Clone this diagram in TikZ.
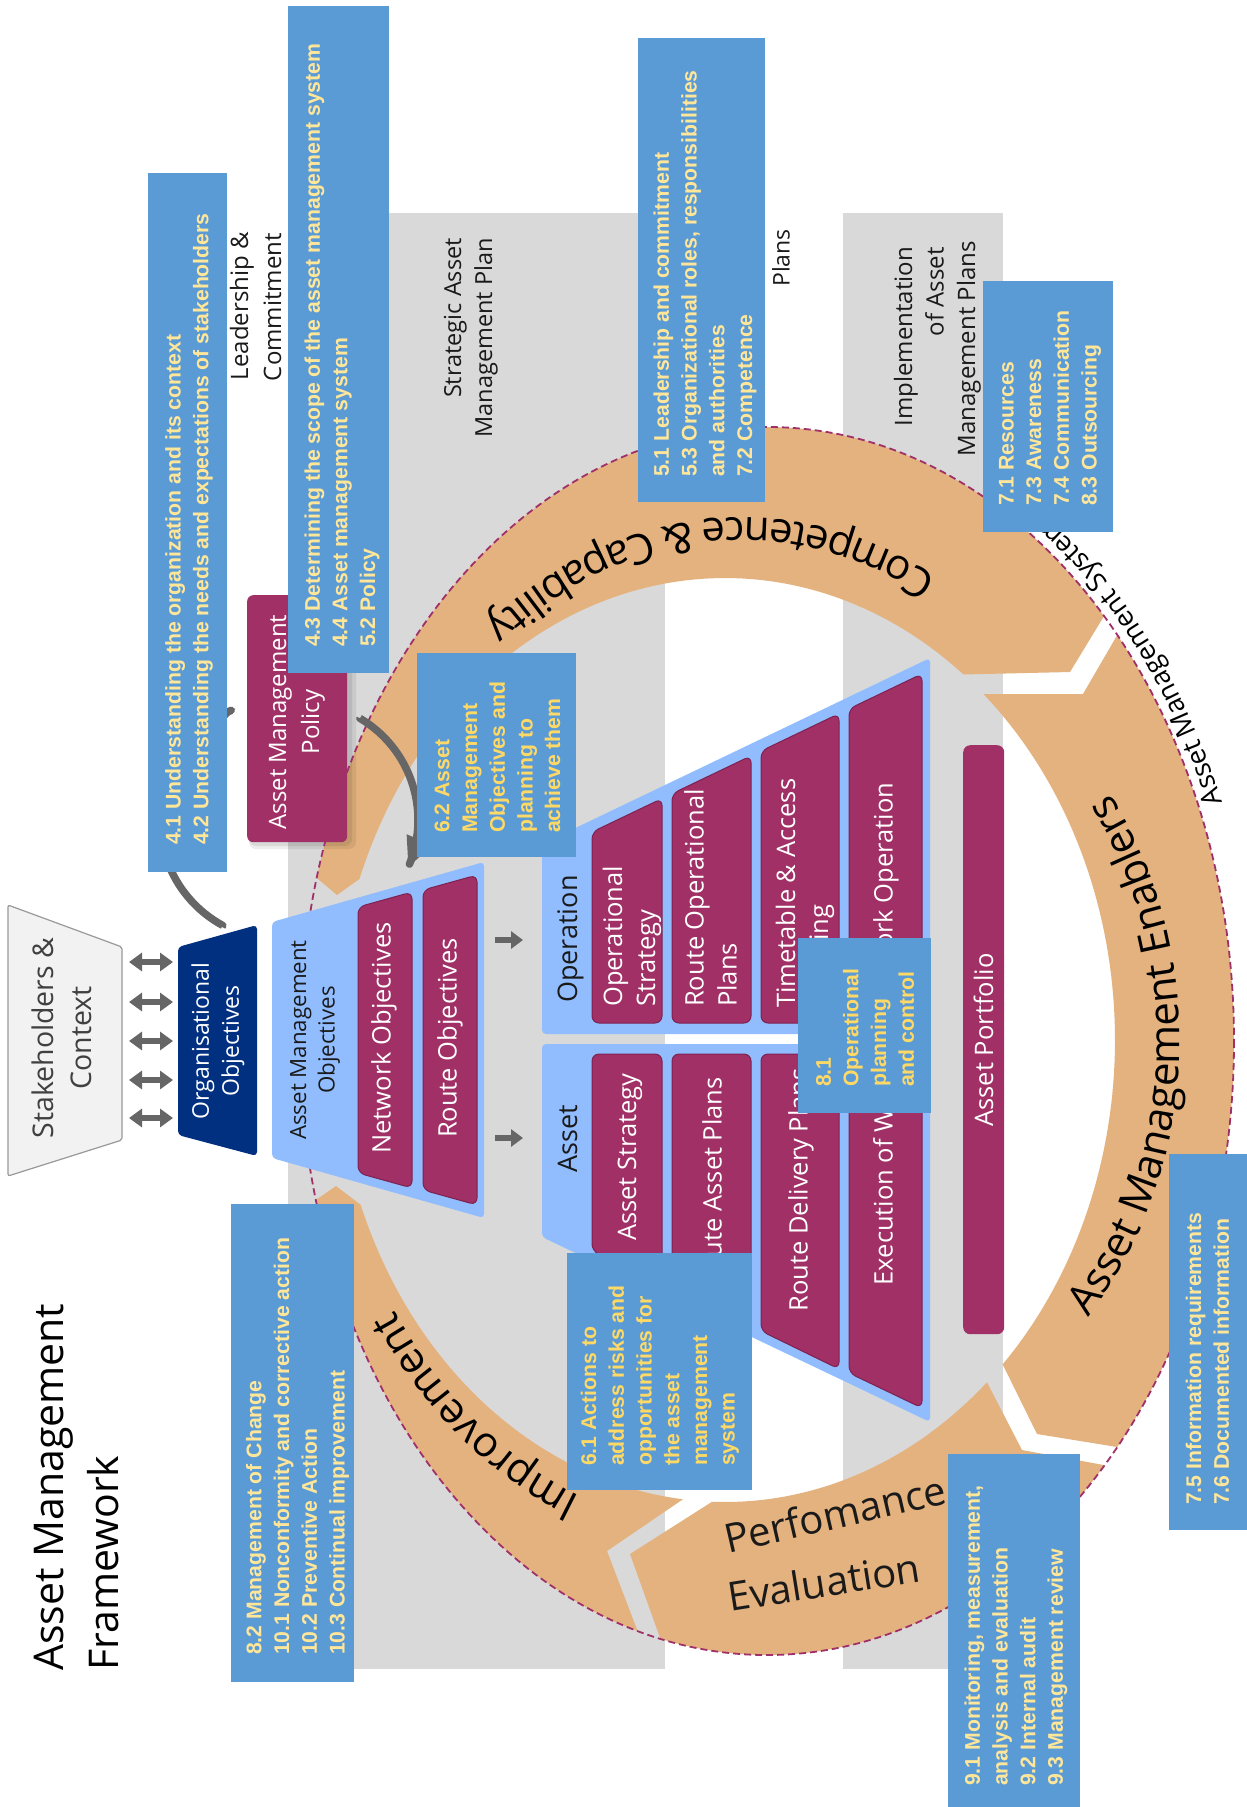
\documentclass[tikz,border=0pt]{standalone}
\usepackage{fontspec}
\setmainfont{Open Sans}
\newfontfamily\boxfont{Liberation Sans}
\usetikzlibrary{arrows.meta,decorations.text}
\definecolor{ringc}{HTML}{E4B27E}
\definecolor{bandc}{HTML}{D9D9D9}
\definecolor{magc}{HTML}{A03065}
\definecolor{magd}{HTML}{7E2250}
\definecolor{ltblue}{HTML}{91BDFF}
\definecolor{navyc}{HTML}{00307F}
\definecolor{boxc}{HTML}{5B9BD5}
\definecolor{ytxt}{HTML}{FFE699}
\definecolor{ytxtb}{HTML}{FFD966}
\definecolor{darkt}{HTML}{1A1A1A}
\definecolor{arrc}{HTML}{666666}
\definecolor{dashc}{HTML}{A0306A}
\definecolor{stkc}{HTML}{F2F2F2}
\newcommand{\myfs}[2]{\fontsize{#1}{#2}\selectfont}
\newcommand{\arcfont}{\fontsize{42}{50}\selectfont}
\newcommand{\amsfont}{\fontsize{27}{32}\selectfont}
\begin{document}
\begin{tikzpicture}[x=1pt,y=-1pt,line join=round,
  boxtext/.style={rotate=90,anchor=west,align=left,inner sep=0pt,font=\boxfont\bfseries\myfs{21.2}{27.7},text=ytxt},
  bluebox/.style={fill=boxc,inner sep=0pt,anchor=north west},
  magtext/.style={rotate=90,inner sep=0pt,font=\myfs{25.5}{33},text=white,align=left},
  lbl/.style={rotate=90,inner sep=0pt,font=\myfs{24}{32},text=darkt},
  dblarrow/.style={draw=arrc,line width=6pt,{Triangle[length=13pt,width=18pt]}-{Triangle[length=13pt,width=18pt]}},
  rarrow/.style={draw=arrc,line width=6pt,-{Triangle[length=12pt,width=17pt]}},
  bigarrow/.style={draw=arrc,line width=7.5pt,-{Triangle[length=30pt,width=26pt]}},
  magbox/.style={fill=magc,draw=magd,line width=1pt,rounded corners=7pt}]
\useasboundingbox (0,0) rectangle (1247,1807);
\fill[white] (0,0) rectangle (1247,1807);
% bands
\fill[bandc] (288,213) rectangle (665,1669);
\fill[bandc] (843,213) rectangle (1003,1669);
% band labels
\node[lbl,anchor=base east] (lc1) at (248,232) {Leadership \&};
\node[lbl,anchor=base east] (lc2) at (281,233) {Commitment};
\node[lbl,anchor=base east,font=\myfs{23.5}{31}] (sa1) at (461,238) {Strategic Asset};
\node[lbl,anchor=base east,font=\myfs{23.5}{31}] (sa2) at (492,238) {Management Plan};
\node[lbl,font=\myfs{23}{30}] (plans) at (781,258) {Plans};
\node[lbl,anchor=base east] (im1) at (912,247) {Implementation};
\node[lbl,anchor=base east] (im2) at (943.5,247) {of Asset};
\node[lbl,anchor=base east] (im3) at (975,241) {Management Plans};
% ring segments
\fill[ringc] plot[domain=195.4:316.2,samples=90] ({767+467*cos(\x)},{1041+614*sin(\x)}) -- (1070,672)
  -- plot[domain=307.7:200.4,samples=90] ({725+390*cos(\x)},{1040+462*sin(\x)}) -- (337,895) -- cycle;
\fill[ringc] plot[domain=-41.4:41.4,samples=70] ({767+467*cos(\x)},{1041+614*sin(\x)}) -- (1037,1434)
  -- plot[domain=44.6:-48.5,samples=70] ({725+390*cos(\x)},{1040+462*sin(\x)}) -- (1083,694) -- cycle;
\fill[ringc] plot[domain=43.7:103.2,samples=60] ({767+467*cos(\x)},{1041+614*sin(\x)}) -- (630,1554)
  -- plot[domain=91.9:47.8,samples=60] ({725+390*cos(\x)},{1040+462*sin(\x)}) -- (1022,1450) -- cycle;
\fill[ringc] plot[domain=106.1:165,samples=60] ({767+467*cos(\x)},{1041+614*sin(\x)}) -- (336,1186)
  -- plot[domain=159.1:96.2,samples=60] ({725+390*cos(\x)},{1040+462*sin(\x)}) -- (607,1551) -- cycle;
% policy box with shadow
\fill[black,opacity=0.07,rounded corners=7pt] (249,598) rectangle (356,849);
\fill[black,opacity=0.08,rounded corners=7pt] (249,597) rectangle (352,846);
\node[fill=magc,rounded corners=6pt,inner sep=0pt,minimum width=100,minimum height=247,anchor=north west] (policy) at (247,595) {};
\node[magtext,align=center,font=\myfs{24}{33}] (poltxt) at (297,722) {Asset Management\\Policy};
% dashed system boundary
\draw[dashc,line width=1.8pt,dash pattern=on 7pt off 4pt] (767,1041) ellipse[x radius=467,y radius=614];
% curved arrows
\coordinate (pa1) at (222,927);
\coordinate (pb1) at (360,718);
\draw[bigarrow] (pa1) -- plot[domain=118.5:248.6,samples=50] ({280+120*cos(\x)},{820+120*sin(\x)});
\draw[bigarrow] (pb1) -- plot[domain=-59.5:23.7,samples=50] ({300+118*cos(\x)},{820+118*sin(\x)});
% stakeholders
\path[fill=stkc,draw=black!40,line width=1.2pt,rounded corners=2pt] (8,905) -- (122,947) -- (122,1140) -- (8,1176) -- cycle;
\node[rotate=90,align=center,inner sep=0pt,font=\myfs{28.5}{38},text=black!75] (stk) at (62,1038) {Stakeholders \&\\Context};
% organisational objectives
\path[fill=navyc,rounded corners=4pt] (178,947) -- (257,925) -- (257,1156) -- (178,1135) -- cycle;
\node[rotate=90,align=center,inner sep=0pt,font=\myfs{23}{30},text=white] (org) at (218,1041) {Organisational\\Objectives};
\foreach \yy [count=\i] in {962,1002,1041,1080,1118}{
  \coordinate (sl\i) at (129,\yy);
  \coordinate (or\i) at (173,\yy);
  \draw[dblarrow] (sl\i) -- (or\i);
}
% asset management objectives
\path[fill=ltblue,rounded corners=4pt] (272,922) -- (484,862) -- (484,1218) -- (272,1158) -- cycle;
\node[rotate=90,align=center,inner sep=0pt,font=\myfs{22.3}{28.5},text=darkt] (amo) at (315,1040) {Asset Management\\Objectives};
\path[magbox] (358,907) -- (412,892) -- (412,1188) -- (358,1173) -- cycle;
\node[magtext] (netobj) at (384,1038) {Network Objectives};
\path[magbox] (423,890) -- (477,875) -- (477,1205) -- (423,1190) -- cycle;
\node[magtext] (rteobj) at (450,1038) {Route Objectives};
\coordinate (ra1) at (495,940);
\coordinate (rb1) at (523,940);
\coordinate (ra2) at (495,1138);
\coordinate (rb2) at (523,1138);
\draw[rarrow] (ra1) -- (rb1);
\draw[rarrow] (ra2) -- (rb2);
% operation and asset blocks
\path[fill=ltblue,rounded corners=4pt] (542,844) -- (930,658) -- (930,1034) -- (542,1034) -- cycle;
\path[fill=ltblue,rounded corners=4pt] (542,1044) -- (930,1044) -- (930,1422) -- (542,1237) -- cycle;
\node[rotate=90,anchor=base west,inner sep=0pt,font=\myfs{27}{32},text=darkt] (oplbl) at (577,1003) {Operation};
\node[rotate=90,anchor=base west,inner sep=0pt,font=\myfs{27}{32},text=darkt] (aslbl) at (577,1173) {Asset};
\path[magbox] (592,832) -- (662,798.5) -- (662,1023) -- (592,1023) -- cycle;
\path[magbox] (672,793.7) -- (751,755.8) -- (751,1023) -- (672,1023) -- cycle;
\path[magbox] (761,751) -- (839,713.6) -- (839,1023) -- (761,1023) -- cycle;
\path[magbox] (849,708.8) -- (922,673.8) -- (922,1408) -- (849,1373) -- cycle;
\path[magbox] (592,1054) -- (662,1054) -- (662,1284) -- (592,1251) -- cycle;
\path[magbox] (672,1054) -- (751,1054) -- (751,1327) -- (672,1289) -- cycle;
\path[magbox] (761,1054) -- (839,1054) -- (839,1369) -- (761,1331) -- cycle;
\node[magtext,anchor=west] (tc1) at (632,1007) {Operational\\Strategy};
\node[magtext,anchor=west] (tc2) at (710.5,1007) {Route Operational\\Plans};
\node[magtext,anchor=west] (tc3) at (805,1008) {Timetable \& Access\\Planning};
\node[magtext] (tc4) at (886,1034) {Execution of Work and Network Operation};
\node[magtext,anchor=east] (ta1) at (630,1073) {Asset Strategy};
\node[magtext,anchor=east] (ta2) at (712,1077) {Route Asset Plans};
\node[magtext,anchor=east] (ta3) at (801,1068) {Route Delivery Plans};
\node[fill=magc,rounded corners=7pt,inner sep=0pt,minimum width=41,minimum height=589,anchor=north west] (portf) at (963,745) {};
\node[magtext] (portftxt) at (983.5,1040) {Asset Portfolio};
% ring labels
\path[decorate,decoration={text along path,text align=center,text={|\arcfont|Competence {\&} Capability}}]
  plot[domain=-34:-155,samples=150] ({742+420.8*cos(\x)},{1040.4+522.8*sin(\x)});
\path[decorate,decoration={text along path,text align=center,text={|\arcfont|Asset Management Enablers}}]
  plot[domain=62.7:-57.3,samples=150] ({790+390*cos(\x)},{1040+430*sin(\x)});
\path[decorate,decoration={text along path,text align=center,text={|\arcfont|Improvement}}]
  plot[domain=92:164,samples=100] ({733.4+405.4*cos(\x)},{1040.2+492.4*sin(\x)});
\path[decorate,decoration={text along path,text align=left,text={|\amsfont|Asset Management System}}]
  plot[domain=-22:-80,samples=100] ({767+491*cos(\x)},{1041+638*sin(\x)});
\node[rotate=13,anchor=base west,inner sep=0pt,font=\myfs{40}{48},text=darkt] (perf1) at (728,1554) {Perfomance};
\node[rotate=9,anchor=base west,inner sep=0pt,font=\myfs{40}{48},text=darkt] (perf2) at (730,1612) {Evaluation};
% clause boxes
\node[bluebox,minimum width=79,minimum height=699] (b41) at (148,173) {};
\node[boxtext] (t41) at (189,845) {4.1 Understanding the organization and its context\\4.2 Understanding the needs and expectations of stakeholders};
\node[bluebox,minimum width=101,minimum height=667] (b43) at (288,6) {};
\node[boxtext] (t43) at (342,647) {4.3 Determining the scope of the asset management system\\4.4 Asset management system\\5.2 Policy};
\node[bluebox,minimum width=127,minimum height=464] (b51) at (638,38) {};
\node[boxtext] (t51) at (705,477) {5.1 Leadership and commitment\\5.3 Organizational roles, responsibilities\\and authorities\\7.2 Competence};
\node[bluebox,minimum width=159,minimum height=204] (b62) at (417,653) {};
\node[boxtext,text=ytxtb] (t62) at (497.5,833) {6.2 Asset\\Management\\Objectives and\\planning to\\achieve them};
\node[bluebox,minimum width=130,minimum height=251] (b71) at (983,281) {};
\node[boxtext] (t71) at (1050,506) {7.1 Resources\\7.3 Awareness\\7.4 Communication\\8.3 Outsourcing};
\node[bluebox,minimum width=133,minimum height=175] (b81) at (798,938) {};
\node[boxtext,text=ytxtb] (t81) at (865,1087) {8.1\\Operational\\planning\\and control};
\node[bluebox,minimum width=185,minimum height=237] (b61) at (567,1253) {};
\node[boxtext,text=ytxtb] (t61) at (660,1466) {6.1 Actions to\\address risks and\\opportunities for\\the asset\\management\\system};
\node[bluebox,minimum width=123,minimum height=478] (b82) at (231,1204) {};
\node[boxtext] (t82) at (297.5,1655) {8.2 Management of Change\\10.1 Nonconformity and corrective action\\10.2 Preventive Action\\10.3 Continual improvement};
\node[bluebox,minimum width=132,minimum height=360] (b91) at (948,1454) {};
\node[boxtext] (t91) at (1016,1786) {9.1 Monitoring, measurement,\\analysis and evaluation\\9.2 Internal audit\\9.3 Management review};
\node[bluebox,minimum width=82,minimum height=376] (b75) at (1169,1154) {};
\node[boxtext] (t75) at (1207.5,1505) {7.5 Information requirements\\7.6 Documented information};
% title
\node[rotate=90,anchor=base west,inner sep=0pt,font=\myfs{41}{55},text=black] (title1) at (63,1671) {Asset Management};
\node[rotate=90,anchor=base west,inner sep=0pt,font=\myfs{41}{55},text=black] (title2) at (118,1671) {Framework};
\end{tikzpicture}
\end{document}
